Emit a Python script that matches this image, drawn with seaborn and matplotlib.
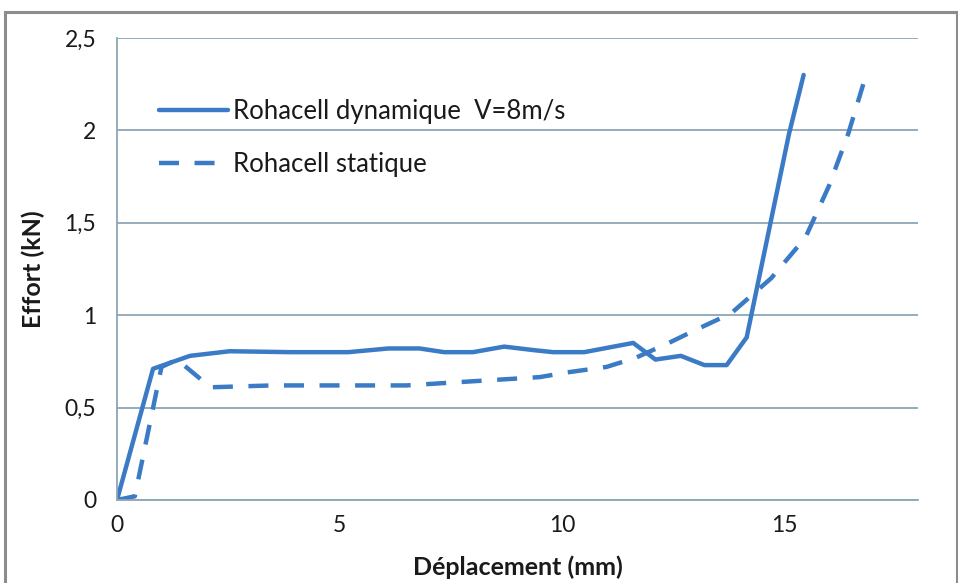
import numpy as np
import pandas as pd
import matplotlib
matplotlib.use("Agg")
import matplotlib.pyplot as plt
import seaborn as sns
from matplotlib.patches import Rectangle

# Dynamic test (V = 8 m/s)
dyn_x = [0.0, 0.81, 1.64, 2.53, 3.9, 5.2, 6.1, 6.8, 7.35, 8.0, 8.7, 9.4, 9.8, 10.5,
         11.6, 12.1, 12.67, 13.2, 13.7, 14.15, 15.1, 15.43]
dyn_y = [0.0, 0.71, 0.78, 0.805, 0.80, 0.80, 0.82, 0.82, 0.80, 0.80, 0.83, 0.81, 0.80, 0.80,
         0.85, 0.76, 0.78, 0.73, 0.73, 0.88, 1.98, 2.30]

# Static test
sta_x = [0.0, 0.4, 1.0, 1.35, 2.1, 3.5, 5.0, 6.5, 7.5, 8.5, 9.5, 10.1, 11.0, 11.66,
         12.4, 13.0, 13.8, 14.7, 15.47, 16.0, 16.43, 16.77]
sta_y = [0.0, 0.02, 0.72, 0.76, 0.61, 0.62, 0.62, 0.62, 0.635, 0.65, 0.665, 0.69, 0.72, 0.77,
         0.85, 0.92, 1.01, 1.20, 1.42, 1.70, 1.98, 2.25]

series_names = ["Rohacell dynamique  V=8m/s", "Rohacell statique"]

x_ticks = [0, 5, 10, 15]
x_tick_labels = ["0", "5", "10", "15"]
y_ticks = [0, 0.5, 1, 1.5, 2, 2.5]
y_tick_labels = ["0", "0,5", "1", "1,5", "2", "2,5"]

df = pd.concat([
    pd.DataFrame({"x": dyn_x, "y": dyn_y, "serie": series_names[0]}),
    pd.DataFrame({"x": sta_x, "y": sta_y, "serie": series_names[1]}),
], ignore_index=True)

sns.set_style("white")
plt.rcParams["font.family"] = ["Lato", "DejaVu Sans"]

blue = "#3b7bc6"
grid_col = "#8ea6b6"
text_col = "#1a1a1a"

fig = plt.figure(figsize=(9.58, 5.83), dpi=100)
ax = fig.add_axes([117 / 958, 1 - 500 / 583, (918 - 117) / 958, (500 - 38) / 583])

sns.lineplot(data=df, x="x", y="y", hue="serie", style="serie",
             palette=[blue, blue], dashes={series_names[0]: "", series_names[1]: (4.5, 3.5)},
             estimator=None, linewidth=3.2, ax=ax)

ax.set_xlim(0, 18)
ax.set_ylim(0, 2.5)
ax.set_xticks(x_ticks)
ax.set_xticklabels(x_tick_labels)
ax.set_yticks(y_ticks)
ax.set_yticklabels(y_tick_labels)

ax.yaxis.grid(True, color=grid_col, linewidth=1.3)
ax.xaxis.grid(False)
ax.set_axisbelow(True)
for side in ["top", "right"]:
    ax.spines[side].set_visible(False)
for side in ["left", "bottom"]:
    ax.spines[side].set_color(grid_col)
    ax.spines[side].set_linewidth(1.3)

ax.tick_params(axis="both", which="major", direction="out", length=6, width=1.2,
               color=grid_col, labelsize=16.5, labelcolor=text_col)
ax.tick_params(axis="y", pad=9)
ax.tick_params(axis="x", pad=5)

ax.set_xlabel("Déplacement (mm)", fontsize=18, fontweight="bold", color=text_col, labelpad=14)
ax.set_ylabel("Effort (kN)", fontsize=18, fontweight="bold", color=text_col, labelpad=14)

leg = ax.legend(loc="upper left", bbox_to_anchor=(0.023, 0.918), frameon=False,
                fontsize=18.5, handlelength=2.7, handletextpad=0.2, labelspacing=1.1)
for t in leg.get_texts():
    t.set_color(text_col)

# outer chart frame
fig.patches.append(Rectangle((5 / 958, -0.02), 952 / 958, 1 - 12 / 583 + 0.02,
                             transform=fig.transFigure, fill=False,
                             edgecolor="#8c8c8c", linewidth=2.2))

fig.savefig("out.png", dpi=100, facecolor="white")
